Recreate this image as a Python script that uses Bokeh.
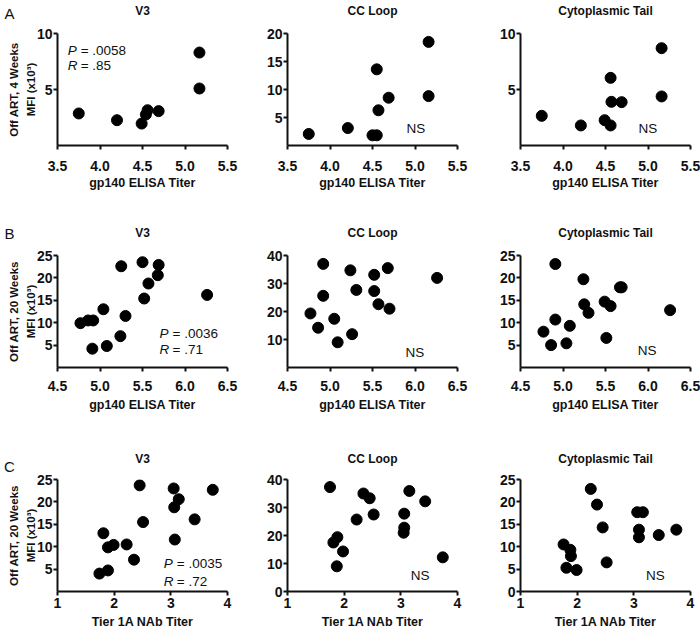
from bokeh.plotting import figure
from bokeh.layouts import column, row
from bokeh.models import Range1d, FixedTicker, Label, PrintfTickFormatter
from bokeh.embed import file_html
from bokeh.resources import INLINE

# ---------------- data ----------------
# Row A: Off ART, 4 weeks vs gp140 ELISA titer
a_v3_x = [3.75, 4.20, 4.49, 4.54, 4.56, 4.69, 5.17, 5.17]
a_v3_y = [2.86, 2.26, 1.96, 2.77, 3.15, 3.07, 8.30, 5.09]
a_cc_x = [3.75, 4.21, 4.50, 4.55, 4.55, 4.57, 4.69, 5.16, 5.16]
a_cc_y = [2.06, 3.12, 1.82, 1.82, 13.6, 6.29, 8.53, 18.5, 8.82]
a_ct_x = [3.75, 4.21, 4.49, 4.56, 4.56, 4.57, 4.69, 5.16, 5.16]
a_ct_y = [2.65, 1.79, 2.26, 1.79, 6.04, 3.90, 3.87, 8.69, 4.38]

# Row B: Off ART, 20 weeks vs gp140 ELISA titer
b_v3_x = [4.77, 4.86, 4.92, 4.91, 5.04, 5.08, 5.24, 5.25, 5.30, 5.50, 5.52, 5.57, 5.68, 5.69, 6.26]
b_v3_y = [9.9, 10.5, 10.5, 4.2, 13.0, 4.8, 7.0, 22.6, 11.5, 23.5, 15.4, 18.75, 20.6, 22.9, 16.2]
b_cc_x = [4.77, 4.86, 4.92, 4.92, 5.05, 5.09, 5.24, 5.26, 5.31, 5.52, 5.52, 5.57, 5.68, 5.70, 6.26]
b_cc_y = [19.3, 14.2, 37.0, 25.6, 17.4, 9.0, 34.7, 11.9, 27.7, 33.1, 27.3, 22.6, 35.5, 21.0, 32.0]
b_ct_x = [4.77, 4.86, 4.91, 4.91, 5.04, 5.08, 5.24, 5.25, 5.30, 5.49, 5.51, 5.56, 5.67, 5.69, 6.26]
b_ct_y = [8.0, 5.0, 23.1, 10.7, 5.4, 9.3, 19.7, 14.1, 12.2, 14.7, 6.6, 13.7, 17.9, 17.9, 12.8]

# Row C: Off ART, 20 weeks vs Tier 1A NAb titer
c_v3_x = [1.74, 1.89, 1.81, 1.89, 1.99, 2.22, 2.35, 2.45, 2.51, 3.05, 3.06, 3.14, 3.07, 3.42, 3.74]
c_v3_y = [4.0, 4.7, 13.0, 9.85, 10.4, 10.5, 7.1, 23.7, 15.5, 23.0, 18.8, 20.6, 11.6, 16.1, 22.7]
c_cc_x = [1.75, 1.81, 1.88, 1.87, 1.98, 2.22, 2.34, 2.45, 2.52, 3.06, 3.06, 3.05, 3.15, 3.43, 3.74]
c_cc_y = [37.3, 17.5, 19.4, 9.0, 14.3, 25.7, 35.0, 33.3, 27.5, 27.8, 22.8, 21.0, 35.9, 32.2, 12.2]
c_ct_x = [1.76, 1.81, 1.88, 1.89, 1.99, 2.24, 2.35, 2.45, 2.52, 3.06, 3.16, 3.09, 3.09, 3.44, 3.75]
c_ct_y = [10.5, 5.3, 9.3, 7.9, 4.8, 22.9, 19.4, 14.3, 6.5, 17.7, 17.7, 13.8, 12.1, 12.6, 13.8]

panel_titles = ["V3", "CC Loop", "Cytoplasmic Tail"]
row_letters = ["A", "B", "C"]
x_titles = ["gp140 ELISA Titer", "gp140 ELISA Titer", "Tier 1A NAb Titer"]
y_titles = ["Off ART, 4 Weeks\nMFI (x10\u00b3)", "Off ART, 20 Weeks\nMFI (x10\u00b3)", "Off ART, 20 Weeks\nMFI (x10\u00b3)"]
x_ticks_elisa_a = [3.5, 4.0, 4.5, 5.0, 5.5]
x_ticks_elisa_b = [4.5, 5.0, 5.5, 6.0, 6.5]
x_ticks_nab = [1, 2, 3, 4]
stats = [("P", "= .0058", "R", "= .85"), ("P", "= .0036", "R", "= .71"), ("P", "= .0035", "R", "= .72")]

FONT = "Liberation Sans"
INK = "#111111"
FW, FH = 170, 112
L1, R1, L2, R2, L3, R3 = 57, 29, 31, 33, 30, 10


def panel(xs, ys, xr, yr, xticks, yticks, xfmt, title, title_dy, xlabel, bl, br, bt, bb,
          ylabel=None, xstand=7, xlstand=4):
    p = figure(frame_width=FW, frame_height=FH, x_range=Range1d(*xr), y_range=Range1d(*yr),
               output_backend="svg", toolbar_location=None,
               min_border_left=bl, min_border_right=br, min_border_top=bt, min_border_bottom=bb)
    p.outline_line_color = None
    p.xgrid.visible = False
    p.ygrid.visible = False
    p.background_fill_color = "white"
    p.border_fill_color = "white"
    # panel title, drawn as an unclipped label in the area above the frame
    p.add_layout(Label(x=FW / 2, y=title_dy, x_units="screen", y_units="screen", text=title,
                       text_font=FONT, text_font_style="bold", text_font_size="12px", text_color=INK,
                       text_align="center", text_baseline="middle"), "above")
    for ax in (p.xaxis[0], p.yaxis[0]):
        ax.axis_line_width = 2
        ax.axis_line_color = INK
        ax.major_tick_line_width = 2
        ax.major_tick_line_color = INK
        ax.major_tick_out = 4
        ax.major_tick_in = 0
        ax.minor_tick_out = 0
        ax.minor_tick_in = 0
        ax.major_label_text_font = FONT
        ax.major_label_text_font_style = "bold"
        ax.major_label_text_font_size = "14px"
        ax.major_label_text_color = INK
        ax.axis_label_text_font = FONT
        ax.axis_label_text_font_style = "bold"
        ax.axis_label_text_color = INK
    p.xaxis.ticker = FixedTicker(ticks=xticks)
    p.xaxis.formatter = PrintfTickFormatter(format=xfmt)
    p.yaxis.ticker = FixedTicker(ticks=yticks)
    p.xaxis.major_label_standoff = xstand
    p.yaxis.major_label_standoff = 1
    p.xaxis.axis_label = xlabel
    p.xaxis.axis_label_text_font_size = "12.5px"
    p.xaxis.axis_label_standoff = xlstand
    if ylabel:
        p.yaxis.axis_label = ylabel
        p.yaxis.axis_label_text_font_size = "11.5px"
        p.yaxis.axis_label_text_line_height = 1.4
        p.yaxis.axis_label_standoff = -3
    p.scatter(xs, ys, size=11, color="black")
    return p


def txt(p, x, y, s, style="normal", **kw):
    p.add_layout(Label(x=x, y=y, text=s, text_font=FONT, text_font_size="13.5px", text_font_style=style,
                       text_color=INK, text_baseline="middle", **kw))


# Row A
a1 = panel(a_v3_x, a_v3_y, (3.5, 5.5), (0, 10), x_ticks_elisa_a, [5, 10], "%.1f", panel_titles[0], 23, x_titles[0],
           L1, R1, 33, 80, y_titles[0], 11, 2)
a2 = panel(a_cc_x, a_cc_y, (3.5, 5.5), (0, 20), x_ticks_elisa_a, [5, 10, 15, 20], "%.1f", panel_titles[1], 23,
           x_titles[0], L2, R2, 33, 80, None, 11, 2)
a3 = panel(a_ct_x, a_ct_y, (3.5, 5.5), (0, 10), x_ticks_elisa_a, [5, 10], "%.1f", panel_titles[2], 23, x_titles[0],
           L3, R3, 33, 80, None, 11, 2)
# Row B
b1 = panel(b_v3_x, b_v3_y, (4.5, 6.5), (0, 25), x_ticks_elisa_b, [5, 10, 15, 20, 25], "%.1f", panel_titles[0], 23,
           x_titles[1], L1, R1, 30, 82, y_titles[1], 9, 4)
b2 = panel(b_cc_x, b_cc_y, (4.5, 6.5), (0, 40), x_ticks_elisa_b, [10, 20, 30, 40], "%.1f", panel_titles[1], 23,
           x_titles[1], L2, R2, 30, 82, None, 9, 4)
b3 = panel(b_ct_x, b_ct_y, (4.5, 6.5), (0, 25), x_ticks_elisa_b, [5, 10, 15, 20, 25], "%.1f", panel_titles[2], 23,
           x_titles[1], L3, R3, 30, 82, None, 9, 4)
# Row C
c1 = panel(c_v3_x, c_v3_y, (1, 4), (0, 25), x_ticks_nab, [5, 10, 15, 20, 25], "%d", panel_titles[0], 21,
           x_titles[2], L1, R1, 30, 34, y_titles[2], 2, 4)
c2 = panel(c_cc_x, c_cc_y, (1, 4), (0, 40), x_ticks_nab, [0, 10, 20, 30, 40], "%d", panel_titles[1], 21,
           x_titles[2], L2, R2, 30, 34, None, 2, 4)
c3 = panel(c_ct_x, c_ct_y, (1, 4), (0, 25), x_ticks_nab, [0, 5, 10, 15, 20, 25], "%d", panel_titles[2], 21,
           x_titles[2], L3, R3, 30, 34, None, 2, 4)

# row letters: unclipped labels held in the right-hand panel of the first figure of each row,
# shifted back to the far left of that figure
for p, letter, ly in ((a1, row_letters[0], 132), (b1, row_letters[1], 134), (c1, row_letters[2], 125)):
    p.add_layout(Label(x=-(L1 + FW) + 9, y=ly, x_units="screen", y_units="screen", text=letter,
                       text_font=FONT, text_font_size="15px", text_color=INK,
                       text_baseline="middle", text_align="center"), "right")

# statistics
for p, st, (x0, yp, yr_) in ((a1, stats[0], (3.62, 8.45, 7.17)), (b1, stats[1], (5.70, 7.5, 4.04)),
                              (c1, stats[2], (2.876, 6.22, 2.29))):
    txt(p, x0, yp, st[0], "italic")
    txt(p, x0, yp, st[1], x_offset=13)
    txt(p, x0, yr_, st[2], "italic")
    txt(p, x0, yr_, st[3], x_offset=13)

# NS labels
for p, (x0, y0) in ((a2, (5.01, 2.95)), (a3, (5.0, 1.52)), (b2, (6.0, 5.46)), (b3, (5.99, 3.7)),
                    (c2, (3.34, 5.66)), (c3, (3.38, 3.5))):
    txt(p, x0, y0, "NS", text_align="center")

layout = column(row(a1, a2, a3, spacing=0), row(b1, b2, b3, spacing=0), row(c1, c2, c3, spacing=0), spacing=0)

open("out.html", "w").write(file_html(layout, INLINE))
